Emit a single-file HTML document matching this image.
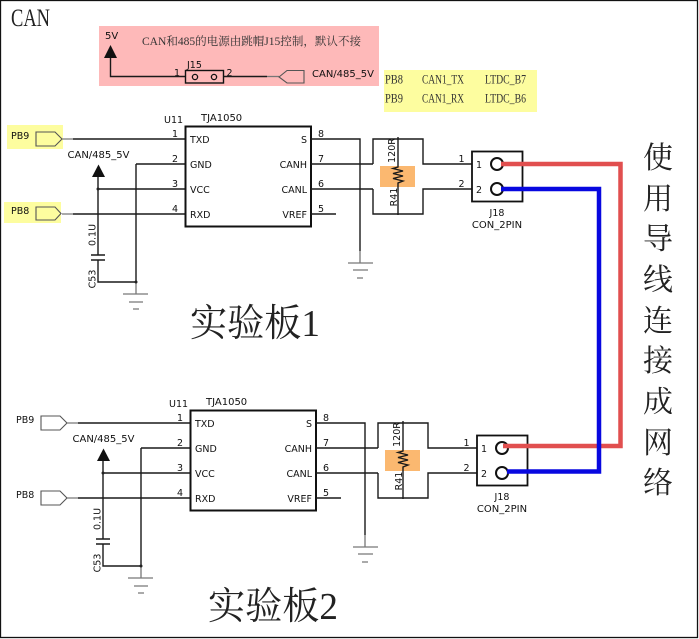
<!DOCTYPE html>
<html><head><meta charset="utf-8">
<style>
html,body{margin:0;padding:0;background:#fff;width:699px;height:639px;overflow:hidden}
svg{display:block;filter:blur(.3px)}
.s{font-family:"DejaVu Sans",sans-serif;font-size:9.5px;fill:#111}
.l{font-size:10px}
.t{font-size:10px}
.n{font-family:"DejaVu Sans",sans-serif;font-size:9.5px;fill:#111;text-anchor:middle}
.e{font-family:"Liberation Serif","Noto Serif CJK SC",serif;font-size:11.5px;fill:#333}
.y{font-family:"Liberation Serif",serif;font-size:13px;fill:#333}
.b{font-family:"Liberation Serif","Noto Serif CJK SC",serif;font-size:38px;fill:#222}
.v{font-family:"Noto Serif CJK SC",serif;font-size:30px;fill:#222;text-anchor:middle}
.w{stroke:#1a1a1a;stroke-width:1.4;fill:none}
.g{stroke:#777;stroke-width:1.3;fill:none}
.p{fill:none;stroke:#555;stroke-width:1.1}
</style></head><body>
<svg width="699" height="639" viewBox="0 0 699 639" xmlns="http://www.w3.org/2000/svg">
<defs>
<g id="c">
  <!-- left pins -->
  <path class="g" d="M62 139H73M62 214H73"/>
  <path class="w" d="M73 139H185M73 214H185M136 164H185M98 189H185"/>
  <path class="w" d="M136 164V282H98V260M98 255V177"/>
  <path class="w" d="M91 255H105M91 260H105"/>
  <path class="g" d="M136 282V294M123 294H148M129 302H143M133 309H139"/>
  <polygon points="92,177 105,177 98.500,164.500" fill="#111"/>
  <circle cx="98" cy="189" r="1.500" fill="#222"/>
  <circle cx="136" cy="282" r="1.500" fill="#222"/>
  <text class="s l" x="67.500" y="158">CAN/485_5V</text>
  <text class="s" transform="translate(95.500,235) rotate(-90)" text-anchor="middle">0.1U</text>
  <text class="s" transform="translate(95.500,279) rotate(-90)" text-anchor="middle">C53</text>
  <!-- IC -->
  <rect x="185.500" y="126.500" width="125.500" height="100" fill="#fff" stroke="#111" stroke-width="2"/>
  <text class="s" x="164" y="123">U11</text>
  <text class="s t" x="201" y="121">TJA1050</text>
  <text class="n" x="175" y="137">1</text><text class="n" x="175" y="162">2</text><text class="n" x="175" y="187">3</text><text class="n" x="175" y="212">4</text>
  <text class="n" x="321" y="137">8</text><text class="n" x="321" y="162">7</text><text class="n" x="321" y="187">6</text><text class="n" x="321" y="212">5</text>
  <text class="s" x="190" y="143">TXD</text><text class="s" x="190" y="168">GND</text><text class="s" x="190" y="193">VCC</text><text class="s" x="190" y="218">RXD</text>
  <text class="s" x="307" y="143" text-anchor="end">S</text><text class="s" x="307" y="168" text-anchor="end">CANH</text><text class="s" x="307" y="193" text-anchor="end">CANL</text><text class="s" x="307" y="218" text-anchor="end">VREF</text>
  <!-- right side -->
  <path class="w" d="M311 139H360V251M311 164H373M311 189H373M311 214H336"/>
  <path class="w" d="M373 164V139H423V164H472M373 189V214H423V189H472"/>
  <path class="g" d="M360 251V263M348 263H373M353 270H368M357 278H363"/>
  <rect x="380" y="166" width="35" height="21" fill="#fbb870"/>
  <path class="w" d="M398 137V167L393 168.500L403 171L393 173.500L403 176L393 178.500L403 181L398 183V215"/>
  <text class="s" transform="translate(395,150.500) rotate(-90)" text-anchor="middle">120R</text>
  <text class="s" transform="translate(397,197) rotate(-90)" text-anchor="middle">R41</text>
  <!-- connector -->
  <rect x="472" y="151.500" width="50.500" height="50" fill="#fff" stroke="#111" stroke-width="1.800"/>
  <circle cx="497" cy="164" r="6" fill="#fff" stroke="#111" stroke-width="2"/>
  <circle cx="497" cy="189" r="6" fill="#fff" stroke="#111" stroke-width="2"/>
  <text class="n" x="461.500" y="162">1</text><text class="n" x="461.500" y="187">2</text>
  <text class="n" x="479" y="168">1</text><text class="n" x="479" y="193">2</text>
  <text class="n" x="497" y="216">J18</text>
  <text class="n" x="497" y="228" style="font-size:10px">CON_2PIN</text>
</g>
</defs>
<rect x="0.500" y="0.500" width="697" height="637" fill="#fff" stroke="#111" stroke-width="1.300"/>
<text x="11" y="26" font-family="Liberation Serif,serif" font-size="25" fill="#222" textLength="39" lengthAdjust="spacingAndGlyphs">CAN</text>

<!-- pink note -->
<rect x="99" y="26" width="280" height="60" fill="#feb9b9"/>
<text class="s t" x="105" y="39">5V</text>
<polygon points="104,58 117,58 110.500,45" fill="#111"/>
<path class="w" d="M110.500 58V76.500H185M223 76.500H267"/>
<path class="g" d="M267 76.500H279"/>
<text class="e" x="142" y="45" textLength="219" lengthAdjust="spacingAndGlyphs">CAN和485的电源由跳帽J15控制，默认不接</text>
<rect x="185.500" y="70.500" width="38" height="12.500" fill="none" stroke="#111" stroke-width="1.400"/>
<circle cx="195" cy="77" r="2.600" fill="none" stroke="#111" stroke-width="1.300"/>
<circle cx="214" cy="77" r="2.600" fill="none" stroke="#111" stroke-width="1.300"/>
<text class="n" x="177" y="76">1</text><text class="n" x="229.500" y="76">2</text>
<text class="s" x="187" y="68">J15</text>
<polygon class="p" points="279,77 287,70.500 304,70.500 304,83 287,83"/>
<text class="s l" x="312" y="77">CAN/485_5V</text>

<!-- yellow table -->
<rect x="384" y="70" width="153" height="42" fill="#fdfd9f"/>
<text class="y" x="385" y="83.500" textLength="18" lengthAdjust="spacingAndGlyphs">PB8</text>
<text class="y" x="422" y="83.500" textLength="42" lengthAdjust="spacingAndGlyphs">CAN1_TX</text>
<text class="y" x="485" y="83.500" textLength="41" lengthAdjust="spacingAndGlyphs">LTDC_B7</text>
<text class="y" x="385" y="102.500" textLength="18" lengthAdjust="spacingAndGlyphs">PB9</text>
<text class="y" x="422" y="102.500" textLength="42" lengthAdjust="spacingAndGlyphs">CAN1_RX</text>
<text class="y" x="485" y="102.500" textLength="41" lengthAdjust="spacingAndGlyphs">LTDC_B6</text>

<!-- top input labels -->
<rect x="7" y="125" width="56" height="24" fill="#fdfd9f"/>
<rect x="4" y="202" width="57" height="21" fill="#fdfd9f"/>
<polygon class="p" points="36,132 55,132 62,139 55,146 36,146"/>
<polygon class="p" points="36,207 55,207 61,213.500 55,220 36,220"/>
<text class="s" x="11" y="139">PB9</text>
<text class="s" x="11" y="214">PB8</text>

<!-- bottom input labels -->
<polygon class="p" points="41,416 60,416 67,423 60,430 41,430"/>
<polygon class="p" points="41,491 60,491 67,498 60,505 41,505"/>
<text class="s" x="16" y="423">PB9</text>
<text class="s" x="16" y="498">PB8</text>

<use href="#c"/>
<use href="#c" transform="translate(5,284)"/>

<!-- cables -->
<path d="M501 164H620.500V446H503" fill="none" stroke="#e14f4f" stroke-width="4.500"/>
<path d="M501 189H599V471.500H507" fill="none" stroke="#0808e0" stroke-width="4.500"/>

<text class="b" x="190" y="336" textLength="130" lengthAdjust="spacingAndGlyphs">实验板1</text>
<text class="b" x="208" y="619" textLength="130" lengthAdjust="spacingAndGlyphs">实验板2</text>

<text class="v" x="658" y="168">使</text>
<text class="v" x="658" y="209">用</text>
<text class="v" x="658" y="249">导</text>
<text class="v" x="658" y="290">线</text>
<text class="v" x="658" y="331">连</text>
<text class="v" x="658" y="371">接</text>
<text class="v" x="658" y="412">成</text>
<text class="v" x="658" y="453">网</text>
<text class="v" x="658" y="493">络</text>
</svg>
</body></html>
